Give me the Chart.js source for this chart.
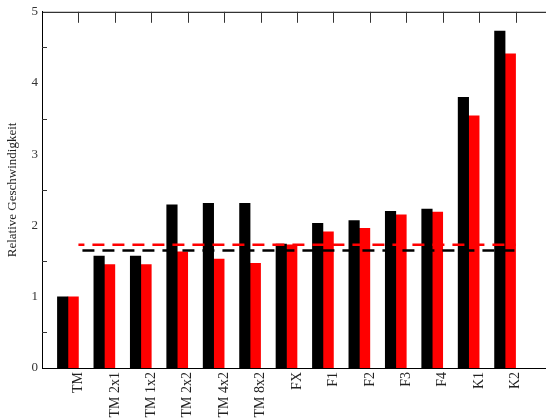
<!DOCTYPE html>
<html>
<head>
<meta charset="utf-8">
<script src="https://cdn.jsdelivr.net/npm/chart.js@4/dist/chart.umd.min.js"></script>
<style>
  html, body { margin: 0; padding: 0; background: #fff; overflow: hidden; }
  #wrap { position: relative; width: 552px; height: 419px; }
</style>
</head>
<body>
<div id="wrap"><canvas id="c"></canvas></div>
<script>
// ---- data ----
const categories = ['TM', 'TM 2x1', 'TM 1x2', 'TM 2x2', 'TM 4x2', 'TM 8x2', 'FX', 'F1', 'F2', 'F3', 'F4', 'K1', 'K2'];
const blackValues = [1.00, 1.57, 1.57, 2.29, 2.31, 2.31, 1.74, 2.03, 2.07, 2.20, 2.23, 3.80, 4.73];
const redValues   = [1.00, 1.45, 1.45, 1.63, 1.53, 1.47, 1.73, 1.91, 1.96, 2.15, 2.19, 3.54, 4.41];
const blackMean = 1.65;
const redMean = 1.73;
const yTicks = [0, 1, 2, 3, 4, 5];
const yTitle = 'Relative Geschwindigkeit';

// axis has one empty slot at each end
const labels = [''].concat(categories, ['']);
const pad = arr => [null].concat(arr, [null]);
const constLine = v => [null].concat(categories.map(() => v), [null]);

const serif = "'Liberation Serif', 'DejaVu Serif', serif";

const innerTicks = {
  id: 'innerTicks',
  afterDraw(chart) {
    const {ctx, chartArea: a, scales: {x, y}} = chart;
    ctx.save();
    ctx.strokeStyle = '#000';
    ctx.lineWidth = 1;
    // top frame line
    ctx.beginPath();
    ctx.moveTo(a.left, a.top + 0.5);
    ctx.lineTo(a.right, a.top + 0.5);
    ctx.stroke();
    // top ticks at categories
    ctx.strokeStyle = '#333';
    for (let i = 1; i <= categories.length; i++) {
      const px = Math.round(x.getPixelForValue(i)) + 0.5;
      ctx.beginPath();
      ctx.moveTo(px, a.top);
      ctx.lineTo(px, a.top + 11);
      ctx.stroke();
    }
    // left minor ticks at half units
    for (let k = 0; k < yTicks.length - 1; k++) {
      const py = Math.round(y.getPixelForValue(yTicks[k] + 0.5)) + 0.5;
      ctx.beginPath();
      ctx.moveTo(a.left, py);
      ctx.lineTo(a.left + 5, py);
      ctx.stroke();
    }
    ctx.restore();
  }
};

new Chart(document.getElementById('c'), {
  data: {
    labels: labels,
    datasets: [
      { type: 'line', label: 'Mittel schwarz', data: constLine(blackMean), borderColor: '#000', borderWidth: 2.5,
        borderDash: [12, 8], borderDashOffset: 16, pointRadius: 0, fill: false, order: 0 },
      { type: 'line', label: 'Mittel rot', data: constLine(redMean), borderColor: '#ff0000', borderWidth: 2.5,
        borderDash: [12, 8], borderDashOffset: 6, pointRadius: 0, fill: false, order: 0 },
      { type: 'bar', label: 'schwarz', data: pad(blackValues), backgroundColor: '#000', barThickness: 10.5, order: 1 },
      { type: 'bar', label: 'rot', data: pad(redValues), backgroundColor: '#ff0000', barThickness: 10.5, order: 1 },
      { type: 'bar', label: '', data: [], backgroundColor: 'rgba(0,0,0,0)', barThickness: 10.5, order: 1 },
      { type: 'bar', label: '', data: [], backgroundColor: 'rgba(0,0,0,0)', barThickness: 10.5, order: 1 }
    ]
  },
  options: {
    responsive: true,
    maintainAspectRatio: false,
    animation: false,
    layout: { padding: { top: 11, left: 0, right: 0, bottom: 0 } },
    plugins: { legend: { display: false }, tooltip: { enabled: false } },
    scales: {
      x: {
        type: 'category',
        offset: false,
        grid: { display: false, drawTicks: false, offset: false },
        border: { display: true, color: '#000', width: 1 },
        ticks: {
          autoSkip: false, maxRotation: 90, minRotation: 90, padding: 4,
          color: '#222', font: { family: serif, size: 14 }
        },
        afterFit(s) { s.height = 51; s.paddingLeft = 0; s.paddingRight = 0; }
      },
      y: {
        min: 0, max: 5,
        grid: { display: false, drawTicks: false },
        border: { display: true, color: '#000', width: 1 },
        ticks: { stepSize: 1, padding: 4, color: '#333', font: { family: serif, size: 13 } },
        title: { display: true, text: yTitle, color: '#222', font: { family: serif, size: 13 }, padding: { top: 5, bottom: 0 } },
        afterFit(s) { s.width = 42; }
      }
    }
  },
  plugins: [innerTicks]
});
</script>
</body>
</html>
